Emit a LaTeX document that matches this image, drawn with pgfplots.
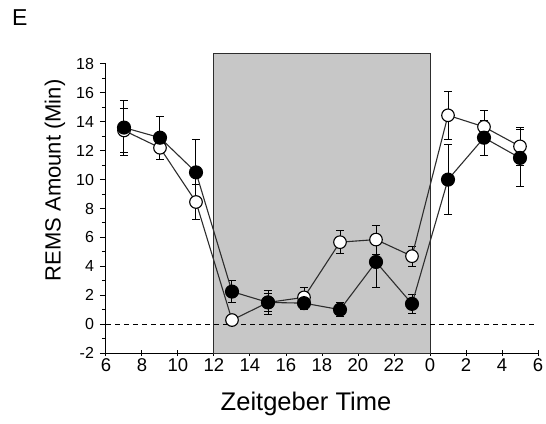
\documentclass[border=0pt]{standalone}
\usepackage{fontspec}
\setmainfont{Liberation Sans}
\usepackage{pgfplots}
\pgfplotsset{compat=1.18}

\definecolor{darkbox}{RGB}{199,199,199}
\definecolor{linegray}{RGB}{45,45,45}

\pgfplotsset{
  errs/.style={only marks, mark=none, forget plot,
    error bars/.cd, y dir=both, y explicit,
    error bar style={black, line width=1pt},
    error mark options={rotate=90, mark size=4pt, black, line width=1pt}},
}

\begin{document}
\begin{tikzpicture}
\useasboundingbox (-106pt,-70pt) rectangle (440pt,353pt);
\begin{axis}[
  scale only axis,
  width=432pt, height=289pt,
  xmin=6, xmax=30, ymin=-2, ymax=18,
  axis x line*=bottom, axis y line*=left,
  axis line style={line width=1pt, black},
  clip=false,
  xtick={6,8,...,30},
  xticklabels={6,8,10,12,14,16,18,20,22,0,2,4,6},
  ytick={-2,0,...,18},
  minor y tick num=1,
  major tick length=6pt, minor tick length=4pt,
  x tick style={line width=1pt, black},
  y tick style={line width=1pt, black},
  ytick align=outside, xtick align=center,
  x tick label style={font=\fontsize{18.5}{20}\selectfont, yshift=1pt},
  y tick label style={font=\fontsize{16}{18}\selectfont, xshift=-2.5pt},
  /pgf/number format/assume math mode=true,
  xlabel={Zeitgeber Time},
  ylabel={REMS Amount (Min)},
  xlabel style={font=\fontsize{25.5}{28}\selectfont, at={(axis description cs:0.463,-0.176)}, anchor=center},
  ylabel style={font=\fontsize{22}{24}\selectfont, at={(axis description cs:-0.118,0.597)}, anchor=center},
  every axis plot/.append style={line width=1.1pt},
]
% dark phase
\draw[fill=darkbox, draw=linegray, line width=1pt] (axis cs:12,-2) rectangle (axis cs:24,18.7);
% zero reference line
\addplot[black, line width=0.9pt, dash pattern=on 5pt off 4pt] coordinates {(6,0) (30,0)};

% open circles: error bars first, then line and markers on top
\addplot[errs] table[x=t, y=m, y error=e] {
  t   m      e
  7   13.4   1.5
  9   12.2   0.8
  11  8.45   1.2
  13  0.28   0.2
  15  1.5    0.6
  17  1.85   0.7
  19  5.67   0.8
  21  5.85   1.0
  23  4.7    0.7
  25  14.45  1.65
  27  13.65  1.1
  29  12.3   1.3
};
\addplot[linegray, mark=*, mark size=6.3pt,
  mark options={draw=black, fill=white, line width=1.1pt, solid}]
table[x=t, y=m] {
  t   m
  7   13.4
  9   12.2
  11  8.45
  13  0.28
  15  1.5
  17  1.85
  19  5.67
  21  5.85
  23  4.7
  25  14.45
  27  13.65
  29  12.3
};

% filled circles
\addplot[errs] table[x=t, y=m, y error=e] {
  t   m      e
  7   13.6   1.9
  9   12.9   1.5
  11  10.5   2.3
  13  2.25   0.75
  15  1.5    0.85
  17  1.45   0.45
  19  1.0    0.5
  21  4.3    1.75
  23  1.4    0.65
  25  10.0   2.4
  27  12.9   1.2
  29  11.5   2.0
};
\addplot[linegray, mark=*, mark size=6.5pt,
  mark options={draw=black, fill=black, solid}]
table[x=t, y=m] {
  t   m
  7   13.6
  9   12.9
  11  10.5
  13  2.25
  15  1.5
  17  1.45
  19  1.0
  21  4.3
  23  1.4
  25  10.0
  27  12.9
  29  11.5
};

\node[anchor=north west, inner sep=0pt, font=\fontsize{23}{26}\selectfont]
  at (axis description cs:-0.2176,1.19) {E};
\end{axis}
\end{tikzpicture}
\end{document}
